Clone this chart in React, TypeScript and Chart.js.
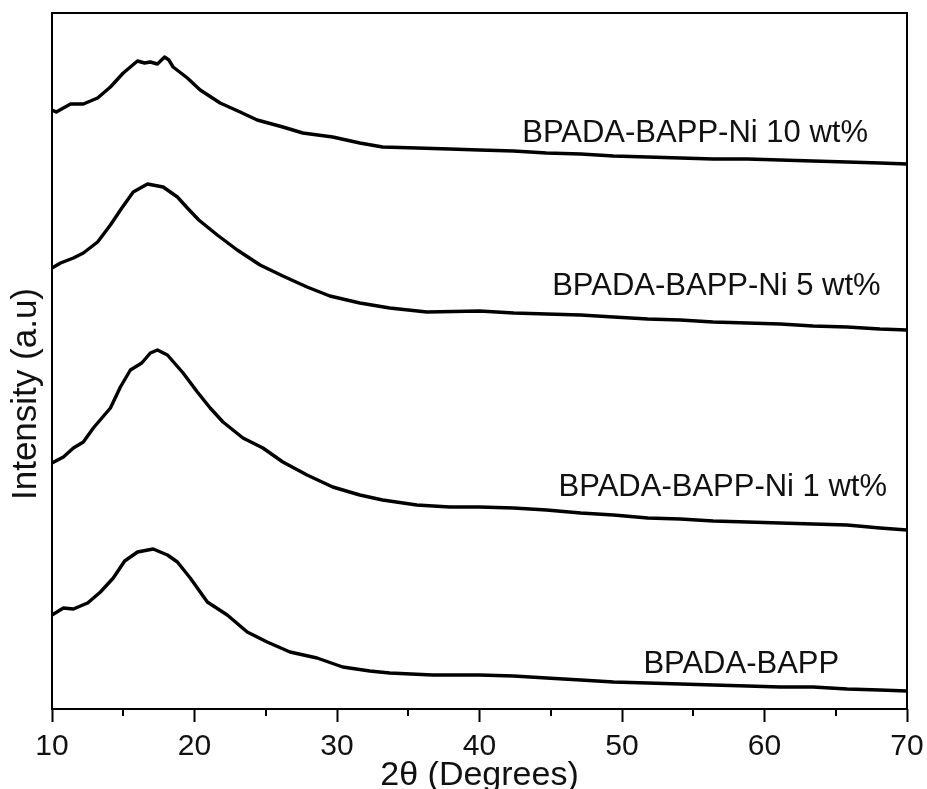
import React, { useEffect, useRef } from "react";
import { Chart, registerables } from "chart.js";

Chart.register(...registerables);

const FONT = '"Liberation Sans", Arial, Helvetica, sans-serif';

// x-axis (2θ) ticks
const majorTicks = [10, 20, 30, 40, 50, 60, 70];
const minorTicks = [15, 25, 35, 45, 55, 65];

const seriesNames = [
  "BPADA-BAPP-Ni 10 wt%",
  "BPADA-BAPP-Ni 5 wt%",
  "BPADA-BAPP-Ni 1 wt%",
  "BPADA-BAPP",
];

// BPADA-BAPP-Ni 10 wt% (offset trace, arbitrary units)
const ni10Angle = [10.0, 10.3, 11.3, 12.2, 13.2, 14.1, 15.0, 16.0, 16.5, 16.9, 17.4, 17.9, 18.2, 18.5, 19.5, 20.4, 21.8, 23.2, 24.4, 26.2, 27.6, 29.7, 31.6, 33.2, 35.6, 37.9, 40.0, 42.4, 44.7, 47.1, 49.4, 51.8, 54.1, 56.4, 58.8, 61.1, 63.4, 65.8, 68.1, 70.0];
const ni10Intensity = [599, 597, 605, 605, 611, 622, 636, 648, 646, 647, 645, 652, 649, 642, 631, 619, 606, 597, 589, 582, 576, 572, 566, 562, 561, 560, 559, 558, 556, 555, 553, 552, 551, 550, 550, 549, 548, 547, 546, 545];

// BPADA-BAPP-Ni 5 wt%
const ni5Angle = [10.0, 10.6, 11.5, 12.2, 13.2, 14.1, 14.9, 15.7, 16.7, 17.8, 18.8, 19.5, 20.3, 21.6, 23.0, 24.6, 26.2, 27.9, 29.5, 31.6, 33.7, 36.3, 40.0, 42.4, 44.7, 47.1, 49.4, 51.8, 54.1, 56.4, 58.8, 61.1, 63.4, 65.8, 68.1, 70.0];
const ni5Intensity = [441, 446, 451, 456, 467, 484, 501, 517, 525, 522, 512, 501, 489, 474, 459, 444, 433, 422, 413, 406, 401, 397, 398, 396, 395, 394, 392, 390, 389, 387, 386, 385, 383, 382, 380, 379];

// BPADA-BAPP-Ni 1 wt%
const ni1Angle = [10.0, 10.8, 11.5, 12.2, 12.9, 14.1, 14.8, 15.5, 16.3, 16.9, 17.4, 18.1, 19.2, 20.2, 21.1, 22.0, 23.4, 24.8, 26.2, 27.9, 29.7, 31.6, 33.2, 35.6, 37.9, 40.0, 42.4, 44.7, 47.1, 49.4, 51.8, 54.1, 56.4, 58.8, 61.1, 63.4, 65.8, 68.1, 70.0];
const ni1Intensity = [246, 252, 261, 267, 281, 301, 322, 339, 346, 356, 359, 354, 336, 317, 301, 287, 271, 261, 247, 234, 222, 214, 209, 204, 202, 202, 201, 199, 196, 194, 191, 190, 188, 187, 186, 185, 184, 181, 179];

// BPADA-BAPP
const bappAngle = [10.0, 10.8, 11.5, 12.5, 13.4, 14.3, 15.1, 16.0, 17.1, 18.1, 18.8, 19.7, 20.9, 22.3, 23.7, 25.1, 26.7, 28.6, 30.4, 32.3, 33.7, 36.7, 40.0, 42.4, 44.7, 47.1, 49.4, 51.8, 54.1, 56.4, 58.8, 61.1, 63.4, 65.8, 68.1, 70.0];
const bappIntensity = [94, 101, 100, 106, 117, 131, 148, 157, 160, 154, 147, 131, 107, 94, 77, 67, 57, 51, 42, 38, 36, 34, 34, 33, 31, 29, 27, 26, 25, 24, 23, 22, 22, 20, 19, 18];

// Curve label anchors (data coordinates: left edge, vertical middle)
const labelAngle = [43.0, 45.1, 45.55, 51.5];
const labelIntensity = [575.5, 423, 222, 45];

const toPoints = (xs: number[], ys: number[]) => xs.map((x, i) => ({ x, y: ys[i] }));

const framePlugin = {
  id: "frame",
  afterDraw(chart: any) {
    const { ctx, chartArea } = chart;
    const { left, top, right, bottom } = chartArea;
    ctx.save();
    ctx.strokeStyle = "#000";
    ctx.lineWidth = 2;
    ctx.strokeRect(left, top, right - left, bottom - top);
    // minor ticks
    const xs = chart.scales.x;
    ctx.beginPath();
    minorTicks.forEach((v) => {
      const px = Math.round(xs.getPixelForValue(v));
      ctx.moveTo(px, bottom);
      ctx.lineTo(px, bottom + 7);
    });
    ctx.stroke();
    ctx.restore();
  },
};

const labelPlugin = {
  id: "curveLabels",
  afterDatasetsDraw(chart: any) {
    const { ctx } = chart;
    const xs = chart.scales.x;
    const ys = chart.scales.y;
    ctx.save();
    ctx.fillStyle = "#111";
    ctx.font = `31px ${FONT}`;
    ctx.textAlign = "left";
    ctx.textBaseline = "middle";
    seriesNames.forEach((name, i) => {
      ctx.fillText(name, xs.getPixelForValue(labelAngle[i]), ys.getPixelForValue(labelIntensity[i]));
    });
    ctx.restore();
  },
};

const yTitlePlugin = {
  id: "yTitle",
  afterDraw(chart: any) {
    const { ctx } = chart;
    ctx.save();
    ctx.translate(26, 394);
    ctx.rotate(-Math.PI / 2);
    ctx.fillStyle = "#111";
    ctx.font = `35px ${FONT}`;
    ctx.textAlign = "center";
    ctx.textBaseline = "middle";
    ctx.fillText("Intensity (a.u)", 0, 0);
    ctx.restore();
  },
};

export default function App() {
  const canvasRef = useRef<HTMLCanvasElement | null>(null);

  useEffect(() => {
    if (!canvasRef.current) return;
    const lineStyle = {
      borderColor: "#000",
      borderWidth: 3.4,
      pointRadius: 0,
      tension: 0,
      fill: false,
      borderJoinStyle: "round" as const,
    };
    const chart = new Chart(canvasRef.current, {
      type: "line",
      data: {
        datasets: [
          { label: seriesNames[0], data: toPoints(ni10Angle, ni10Intensity), ...lineStyle },
          { label: seriesNames[1], data: toPoints(ni5Angle, ni5Intensity), ...lineStyle },
          { label: seriesNames[2], data: toPoints(ni1Angle, ni1Intensity), ...lineStyle },
          { label: seriesNames[3], data: toPoints(bappAngle, bappIntensity), ...lineStyle },
        ],
      },
      options: {
        animation: false,
        responsive: false,
        devicePixelRatio: 1,
        layout: { padding: { top: 13, right: 20, left: 0, bottom: 0 } },
        plugins: {
          legend: { display: false },
          tooltip: { enabled: false },
        },
        scales: {
          x: {
            type: "linear",
            min: 10,
            max: 70,
            afterFit: (s: any) => {
              s.height = 80;
              s.paddingLeft = 0;
              s.paddingRight = 0;
            },
            afterBuildTicks: (s: any) => {
              s.ticks = majorTicks.map((v) => ({ value: v }));
            },
            ticks: {
              color: "#111",
              font: { family: FONT, size: 30 },
              padding: 7,
              maxRotation: 0,
              autoSkip: false,
            },
            grid: {
              display: true,
              drawOnChartArea: false,
              drawTicks: true,
              tickLength: 13,
              tickColor: "#000",
              tickWidth: 2,
            },
            border: { display: false },
            title: {
              display: true,
              text: "2θ (Degrees)",
              color: "#111",
              font: { family: FONT, size: 34, lineHeight: 1.2 },
              padding: { top: 0, bottom: -7 },
            },
          },
          y: {
            type: "linear",
            min: 0,
            max: 696,
            afterFit: (s: any) => {
              s.width = 52;
            },
            ticks: { display: false },
            grid: { display: false, drawTicks: false },
            border: { display: false },
          },
        },
      },
      plugins: [framePlugin, labelPlugin, yTitlePlugin],
    });
    return () => chart.destroy();
  }, []);

  return (
    <div style={{ position: "absolute", left: 0, top: 0, width: 927, height: 789, background: "#fff" }}>
      <canvas ref={canvasRef} width={927} height={789} />
    </div>
  );
}
